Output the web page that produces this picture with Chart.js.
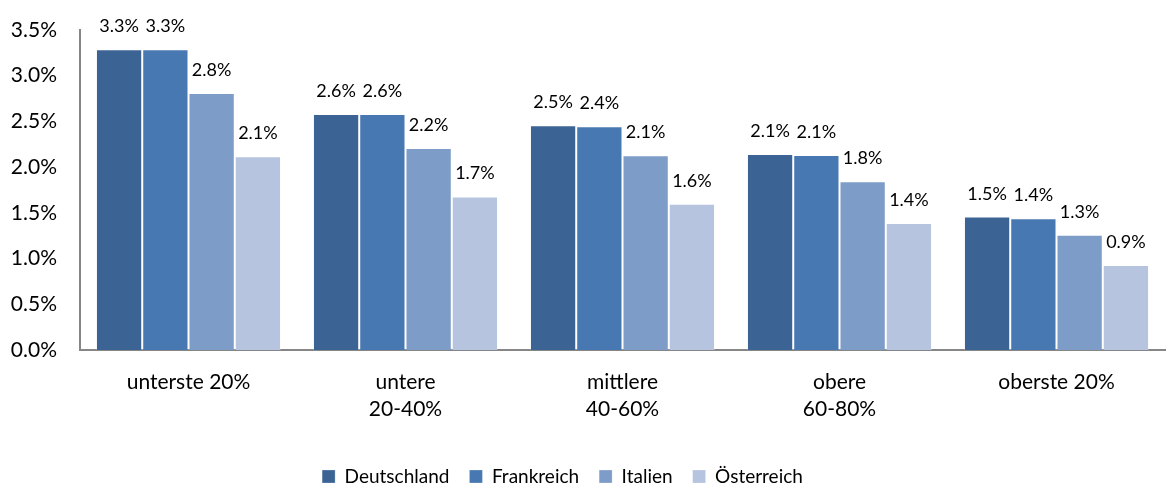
<!DOCTYPE html>
<html>
<head>
<meta charset="utf-8">
<script src="https://cdn.jsdelivr.net/npm/chart.js@4/dist/chart.umd.min.js"></script>
<style>
  html, body { margin: 0; padding: 0; background: #fff; }
  #wrap { width: 1168px; height: 485px; }
</style>
</head>
<body>
<div id="wrap"><canvas id="chart"></canvas></div>
<script>
const categories = ['unterste 20%', ['untere', '20-40%'], ['mittlere', '40-60%'], ['obere', '60-80%'], 'oberste 20%'];
const deutschland = [3.29, 2.58, 2.457, 2.144, 1.46];
const frankreich = [3.29, 2.58, 2.446, 2.133, 1.44];
const italien = [2.81, 2.21, 2.13, 1.845, 1.26];
const oesterreich = [2.12, 1.68, 1.60, 1.39, 0.93];
const yTicks = [0, 0.5, 1.0, 1.5, 2.0, 2.5, 3.0, 3.5];

const fontFamily = 'Lato, "Open Sans", sans-serif';

// value labels above each bar
const barLabels = {
  id: 'barLabels',
  afterDatasetsDraw(chart) {
    const ctx = chart.ctx;
    ctx.save();
    ctx.font = '18px ' + fontFamily;
    ctx.fillStyle = '#000';
    ctx.textAlign = 'center';
    ctx.textBaseline = 'alphabetic';
    chart.data.datasets.forEach((ds, i) => {
      chart.getDatasetMeta(i).data.forEach((bar, j) => {
        ctx.fillText(ds.data[j].toFixed(1) + '%', bar.x, bar.y - 17);
      });
    });
    ctx.restore();
  }
};

// legend in the original sits a bit left of the canvas centre
const legendShift = {
  id: 'legendShift',
  afterLayout(chart) {
    if (chart.legend) chart.legend.right -= 40;
  }
};

const ctx = document.getElementById('chart').getContext('2d');
new Chart(ctx, {
  type: 'bar',
  data: {
    labels: categories,
    datasets: [
      { label: 'Deutschland', data: deutschland, backgroundColor: '#3B6495' },
      { label: 'Frankreich', data: frankreich, backgroundColor: '#4878B1' },
      { label: 'Italien', data: italien, backgroundColor: '#7E9CC8' },
      { label: 'Österreich', data: oesterreich, backgroundColor: '#B6C4E0' },
    ].map(d => Object.assign(d, {
      borderWidth: 1,
      borderColor: 'rgba(255,255,255,0.25)',
      categoryPercentage: 0.853,
      barPercentage: 1,
    })),
  },
  options: {
    responsive: true,
    maintainAspectRatio: false,
    animation: false,
    layout: { padding: { top: 30, right: 3, left: 0, bottom: -11 } },
    plugins: {
      title: { display: false },
      tooltip: { enabled: false },
      legend: {
        display: true,
        position: 'bottom',
        labels: {
          font: { family: fontFamily, size: 19 },
          color: '#000',
          boxWidth: 13,
          boxHeight: 13,
          padding: 20,
        },
      },
    },
    scales: {
      y: {
        min: 0,
        max: 3.5,
        afterBuildTicks: scale => { scale.ticks = yTicks.map(v => ({ value: v })); },
        afterFit: scale => { scale.width = 80; },
        // hidden tick marks give the label gap without adding top padding
        grid: { display: false, drawTicks: true, tickLength: 22 },
        border: { display: true, color: '#868686', width: 2 },
        ticks: {
          padding: 1,
          color: '#000',
          font: { family: fontFamily, size: 21 },
          callback: v => v.toFixed(1) + '%',
        },
      },
      x: {
        grid: { display: false, drawTicks: false },
        border: { display: true, color: '#868686', width: 2 },
        afterFit: scale => { scale.height = 97; },
        ticks: {
          padding: 19,
          maxRotation: 0,
          color: '#000',
          font: { family: fontFamily, size: 21, lineHeight: 1.29 },
        },
      },
    },
  },
  plugins: [barLabels, legendShift],
});
</script>
</body>
</html>
